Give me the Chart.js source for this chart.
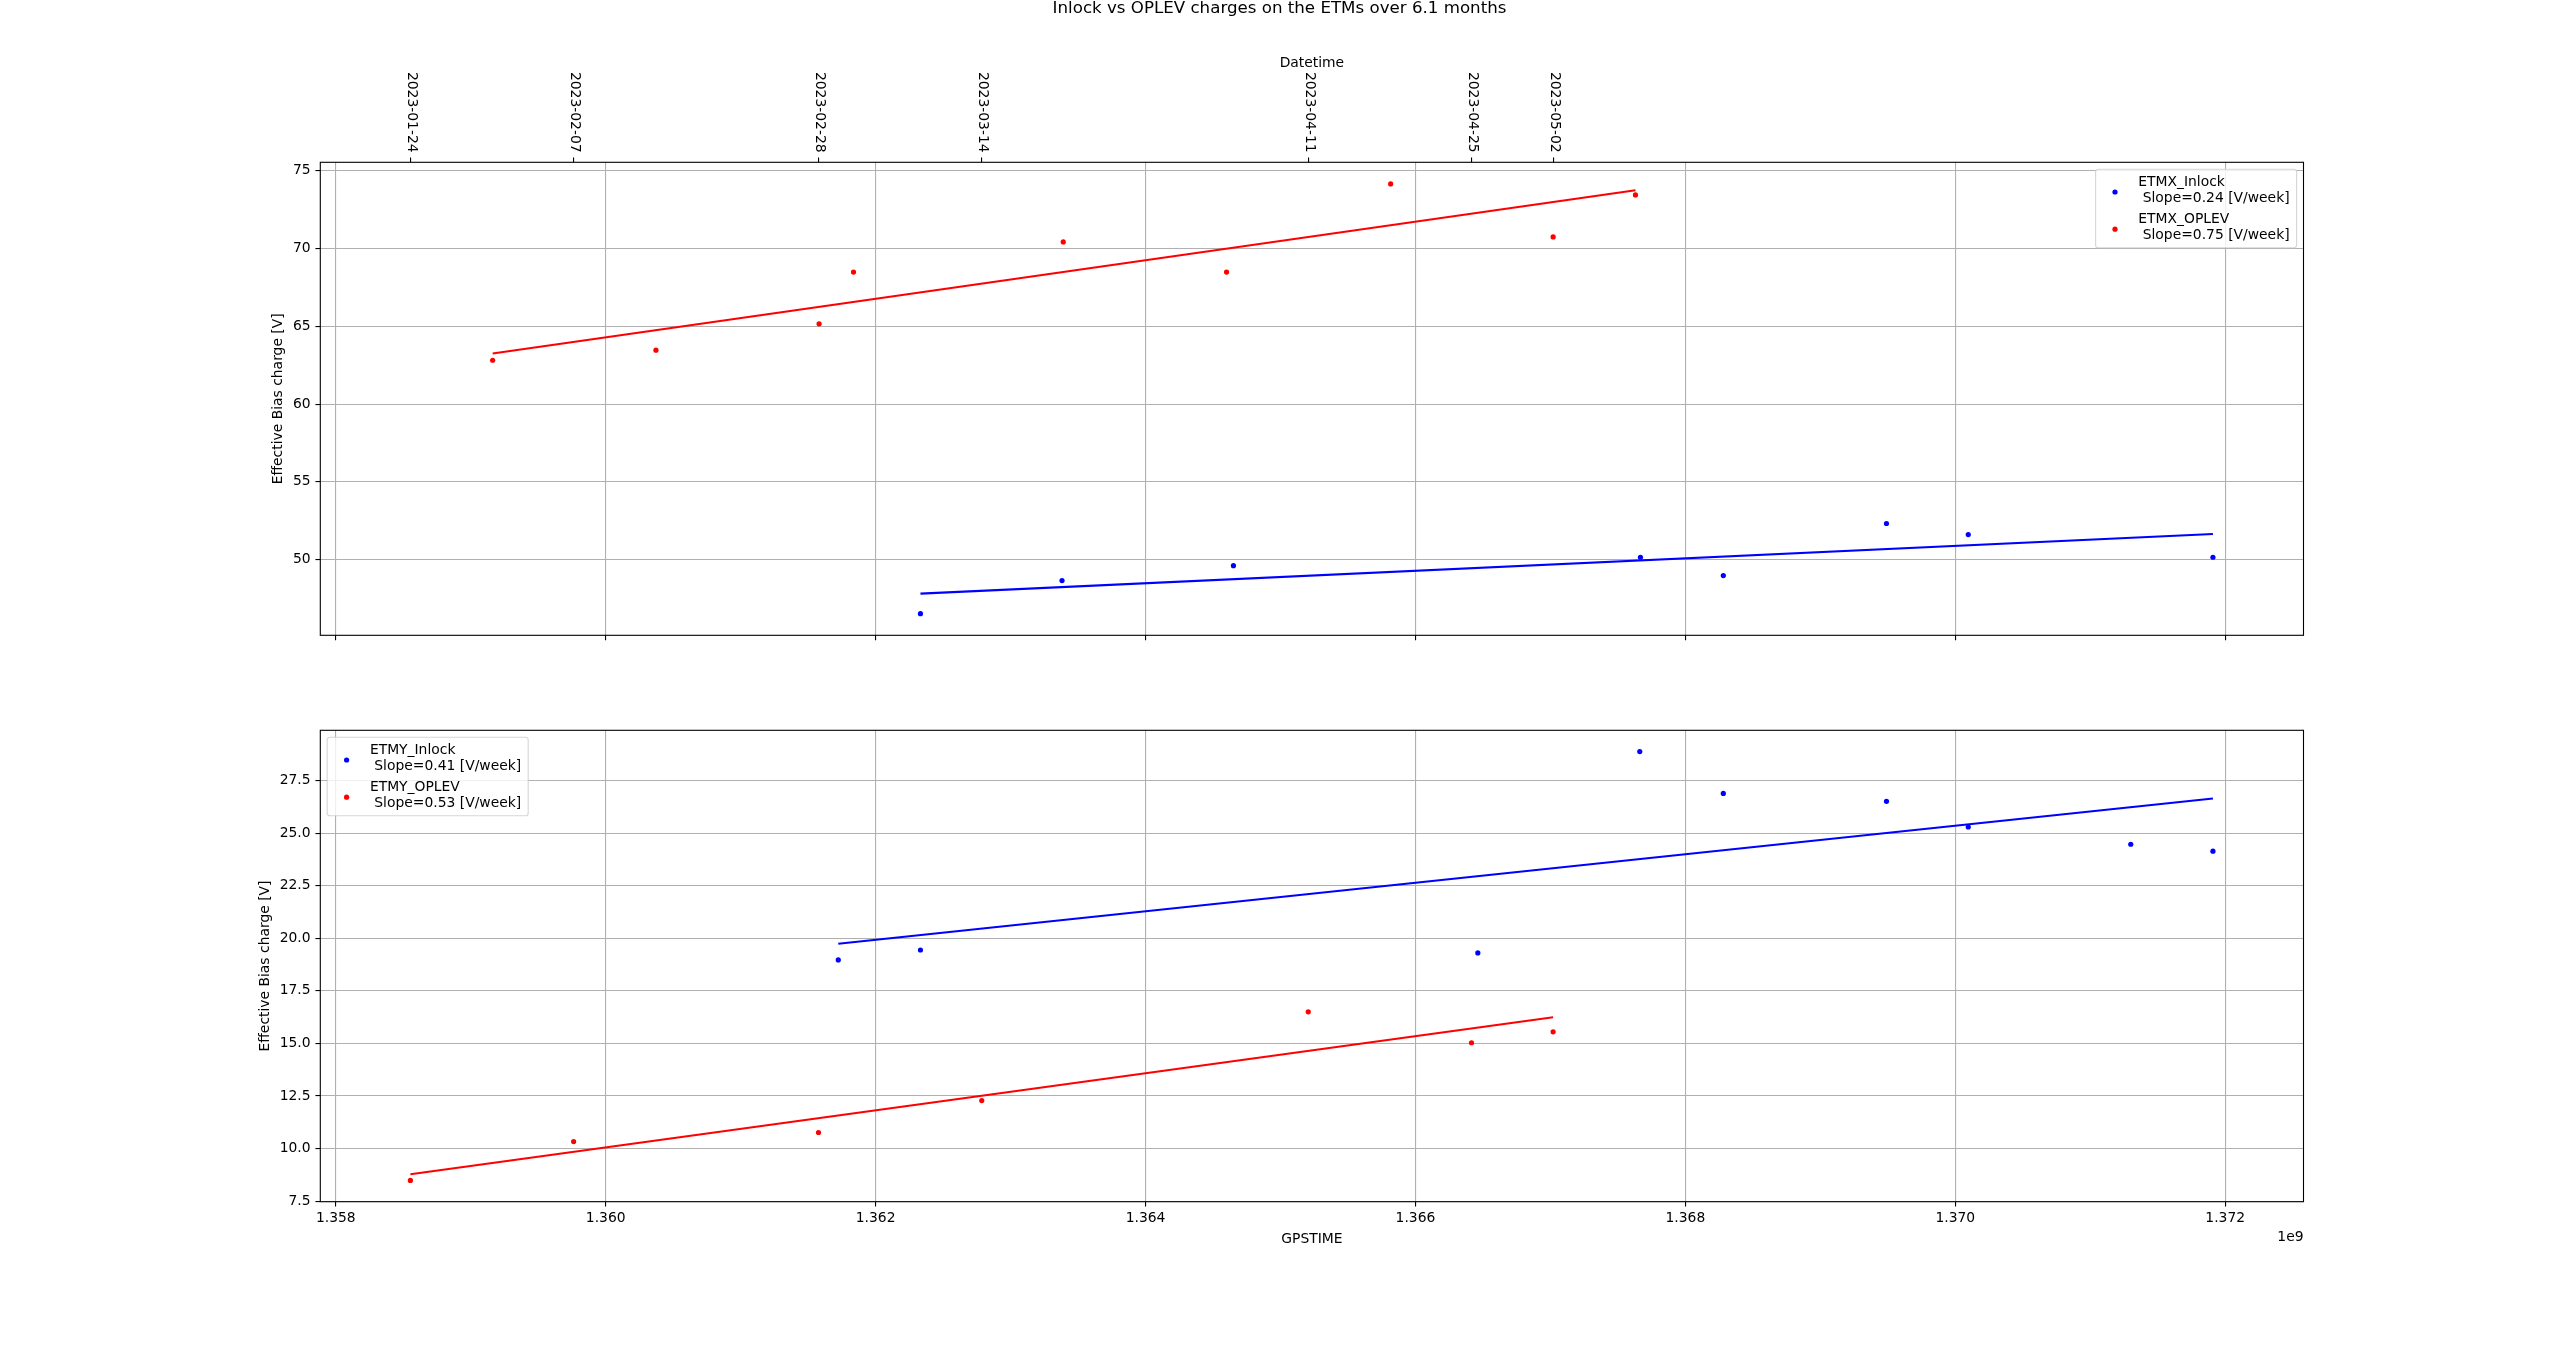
<!DOCTYPE html>
<html>
<head>
<meta charset="utf-8">
<script src="https://cdn.jsdelivr.net/npm/chart.js@4.4.0/dist/chart.umd.min.js"></script>
<style>
html,body{margin:0;padding:0;background:#fff;width:2559px;height:1351px;overflow:hidden}
canvas{position:absolute;left:0;top:0}
</style>
</head>
<body>
<canvas id="c1" width="2559" height="1351"></canvas>
<canvas id="c2" width="2559" height="1351"></canvas>
<script>
// ---------------- DATA (GPS seconds, volts) ----------------
const chartTitle = 'Inlock vs OPLEV charges on the ETMs over 6.1 months';

// Top panel: ETMX
const ETMX_Inlock_t = [1362332000, 1363381000, 1364651000, 1367667000, 1368281000, 1369490000, 1370096000, 1371909000];
const ETMX_Inlock_v = [46.52, 48.65, 49.61, 50.15, 48.97, 52.32, 51.61, 50.15];
const ETMX_OPLEV_t = [1359162000, 1360372000, 1361581000, 1361836000, 1363390000, 1364600000, 1365816000, 1367020000, 1367630000];
const ETMX_OPLEV_v = [62.82, 63.47, 65.16, 68.49, 70.43, 68.49, 74.16, 70.75, 73.45];
// fitted trend lines (end points)
const ETMX_Inlock_fit_t = [1362332000, 1371909000];
const ETMX_Inlock_fit_v = [47.81, 51.65];
const ETMX_OPLEV_fit_t = [1359162000, 1367630000];
const ETMX_OPLEV_fit_v = [63.25, 73.75];

// Bottom panel: ETMY
const ETMY_Inlock_t = [1361723000, 1362332000, 1366462000, 1367662000, 1368281000, 1369490000, 1370096000, 1371300000, 1371909000];
const ETMY_Inlock_v = [18.97, 19.44, 19.30, 28.88, 26.89, 26.51, 25.29, 24.47, 24.14];
const ETMY_OPLEV_t = [1358552600, 1359762200, 1361576600, 1362786200, 1365205400, 1366415000, 1367019800];
const ETMY_OPLEV_v = [8.48, 10.33, 10.76, 12.28, 16.50, 15.03, 15.55];
const ETMY_Inlock_fit_t = [1361723000, 1371909000];
const ETMY_Inlock_fit_v = [19.74, 26.65];
const ETMY_OPLEV_fit_t = [1358552600, 1367019800];
const ETMY_OPLEV_fit_v = [8.78, 16.24];

// legend labels
const topLabels = ['ETMX_Inlock\n Slope=0.24 [V/week]', 'ETMX_OPLEV\n Slope=0.75 [V/week]'];
const bottomLabels = ['ETMY_Inlock\n Slope=0.41 [V/week]', 'ETMY_OPLEV\n Slope=0.53 [V/week]'];

// axis ticks
const xTickValues = [1358000000, 1360000000, 1362000000, 1364000000, 1366000000, 1368000000, 1370000000, 1372000000];
const xTickLabels = ['1.358', '1.360', '1.362', '1.364', '1.366', '1.368', '1.370', '1.372'];
const xOffsetText = '1e9';
const xAxisTitle = 'GPSTIME';
const dateTickValues = [1358552600, 1359762200, 1361576600, 1362786200, 1365205400, 1366415000, 1367019800];
const dateTickLabels = ['2023-01-24', '2023-02-07', '2023-02-28', '2023-03-14', '2023-04-11', '2023-04-25', '2023-05-02'];
const dateAxisTitle = 'Datetime';
const yTopTickValues = [50, 55, 60, 65, 70, 75];
const yTopTickLabels = ['50', '55', '60', '65', '70', '75'];
const yBotTickValues = [7.5, 10, 12.5, 15, 17.5, 20, 22.5, 25, 27.5];
const yBotTickLabels = ['7.5', '10.0', '12.5', '15.0', '17.5', '20.0', '22.5', '25.0', '27.5'];
const yAxisTitle = 'Effective Bias charge [V]';

// ---------------- STYLE ----------------
const BLUE = '#0000ff', RED = '#ff0000', GRID = '#b0b0b0';
const FONT = "'DejaVu Sans', sans-serif";
const FS = 13.89;
Chart.defaults.font.family = FONT;
Chart.defaults.font.size = FS;
Chart.defaults.color = '#000';

const xMin = 1357885000, xMax = 1372580000;

function pts(t, v) { return t.map((x, i) => ({x: x, y: v[i]})); }
function fixedTicks(values) { return s => { s.ticks = values.map(v => ({value: v})); }; }
function labelFor(values, labels) { return v => { const i = values.indexOf(v); return i >= 0 ? labels[i] : ''; }; }
function gridOpts(onArea) {
  return {display: true, drawOnChartArea: onArea, color: GRID, lineWidth: 1.1, drawTicks: true,
          tickLength: 4.86, tickColor: '#000', tickWidth: 1.1};
}
function pointSet(label, t, v, color) {
  return {label: label, data: pts(t, v), backgroundColor: color, borderColor: color, pointRadius: 2.6,
          pointBorderWidth: 0, pointHoverRadius: 2.6, showLine: false, isLegend: true};
}
function lineSet(t, v, color) {
  return {data: pts(t, v), borderColor: color, backgroundColor: color, borderWidth: 2.08, pointRadius: 0,
          pointHoverRadius: 0, showLine: true, fill: false, tension: 0, isLegend: false};
}

const framePlugin = {
  id: 'frame',
  afterDatasetsDraw(chart) {
    const {ctx, chartArea: a} = chart;
    ctx.save();
    ctx.strokeStyle = '#000';
    ctx.lineWidth = 1.1;
    ctx.strokeRect(a.left, a.top, a.right - a.left, a.bottom - a.top);
    ctx.restore();
  }
};

function drawLegend(chart, corner) {
  const {ctx, chartArea: a} = chart;
  const w = 201, h = 78.5, pad = 6.9;
  const left = corner === 'right' ? a.right - pad - w : a.left + pad;
  const top = a.top + pad;
  ctx.save();
  ctx.beginPath();
  ctx.roundRect(left, top, w, h, 2.8);
  ctx.fillStyle = 'rgba(255,255,255,0.8)';
  ctx.fill();
  ctx.strokeStyle = 'rgba(204,204,204,0.8)';
  ctx.lineWidth = 1.1;
  ctx.stroke();
  const entries = chart.data.datasets.filter(d => d.isLegend);
  ctx.font = FS + 'px ' + FONT;
  ctx.textAlign = 'left';
  ctx.textBaseline = 'alphabetic';
  ctx.fillStyle = '#000';
  entries.forEach((d, i) => {
    const dy = i * 37.2;
    ctx.beginPath();
    ctx.arc(left + 19.4, top + 22.8 + dy, 2.6, 0, Math.PI * 2);
    ctx.fillStyle = d.backgroundColor;
    ctx.fill();
    ctx.fillStyle = '#000';
    const lines = d.label.split('\n');
    ctx.fillText(lines[0], left + 42.7, top + 17 + dy);
    ctx.fillText(lines[1], left + 42.7, top + 32.7 + dy);
  });
  ctx.restore();
}

// ---------------- TOP CHART ----------------
new Chart(document.getElementById('c1'), {
  type: 'scatter',
  data: {
    datasets: [
      lineSet(ETMX_Inlock_fit_t, ETMX_Inlock_fit_v, BLUE),
      lineSet(ETMX_OPLEV_fit_t, ETMX_OPLEV_fit_v, RED),
      pointSet(topLabels[0], ETMX_Inlock_t, ETMX_Inlock_v, BLUE),
      pointSet(topLabels[1], ETMX_OPLEV_t, ETMX_OPLEV_v, RED)
    ]
  },
  options: {
    responsive: false, animation: false, devicePixelRatio: 1,
    layout: {padding: {left: 270.4, right: 255.5, top: 152.3, bottom: 705.7}},
    plugins: {legend: {display: false}, tooltip: {enabled: false}, title: {display: false}},
    events: [],
    scales: {
      x: {type: 'linear', position: 'bottom', min: xMin, max: xMax,
          afterBuildTicks: fixedTicks(xTickValues), afterFit: s => { s.height = 10; },
          ticks: {display: false, autoSkip: false}, grid: gridOpts(true), border: {display: false}},
      x2: {type: 'linear', position: 'top', min: xMin, max: xMax,
          afterBuildTicks: fixedTicks(dateTickValues), afterFit: s => { s.height = 10; },
          ticks: {display: false, autoSkip: false}, grid: gridOpts(false), border: {display: false}},
      y: {type: 'linear', position: 'left', min: 45.13, max: 75.55,
          afterBuildTicks: fixedTicks(yTopTickValues), afterFit: s => { s.width = 49.9; },
          ticks: {autoSkip: false, padding: 4.9, callback: labelFor(yTopTickValues, yTopTickLabels)},
          title: {display: true, text: yAxisTitle, padding: 0, font: {size: FS}},
          grid: gridOpts(true), border: {display: false}}
    }
  },
  plugins: [framePlugin, {
    id: 'topExtras',
    afterDraw(chart) {
      const ctx = chart.ctx;
      const a = chart.chartArea;
      ctx.save();
      ctx.fillStyle = '#000';
      // suptitle
      ctx.font = '16.67px ' + FONT;
      ctx.textAlign = 'center';
      ctx.textBaseline = 'alphabetic';
      ctx.fillText(chartTitle, 1279.5, 12.8);
      // Datetime axis title
      ctx.font = FS + 'px ' + FONT;
      ctx.fillText(dateAxisTitle, (a.left + a.right) / 2, 67);
      // rotated date tick labels
      const sx2 = chart.scales.x2;
      dateTickValues.forEach((v, i) => {
        const px = sx2.getPixelForValue(v);
        ctx.save();
        ctx.translate(px + 1, a.top - 4.86 - 4.86);
        ctx.rotate(Math.PI / 2);
        ctx.textAlign = 'right';
        ctx.textBaseline = 'middle';
        ctx.fillText(dateTickLabels[i], 0, 0);
        ctx.restore();
      });
      ctx.restore();
      drawLegend(chart, 'right');
    }
  }]
});

// ---------------- BOTTOM CHART ----------------
new Chart(document.getElementById('c2'), {
  type: 'scatter',
  data: {
    datasets: [
      lineSet(ETMY_Inlock_fit_t, ETMY_Inlock_fit_v, BLUE),
      lineSet(ETMY_OPLEV_fit_t, ETMY_OPLEV_fit_v, RED),
      pointSet(bottomLabels[0], ETMY_Inlock_t, ETMY_Inlock_v, BLUE),
      pointSet(bottomLabels[1], ETMY_OPLEV_t, ETMY_OPLEV_v, RED)
    ]
  },
  options: {
    responsive: false, animation: false, devicePixelRatio: 1,
    layout: {padding: {left: 257.5, right: 255.5, top: 730.3, bottom: 103.5}},
    plugins: {legend: {display: false}, tooltip: {enabled: false}, title: {display: false}},
    events: [],
    scales: {
      x: {type: 'linear', position: 'bottom', min: xMin, max: xMax,
          afterBuildTicks: fixedTicks(xTickValues), afterFit: s => { s.height = 45.8; },
          ticks: {autoSkip: false, maxRotation: 0, minRotation: 0, padding: 4, callback: labelFor(xTickValues, xTickLabels)},
          title: {display: true, text: xAxisTitle, padding: 0, font: {size: FS}},
          grid: gridOpts(true), border: {display: false}},
      y: {type: 'linear', position: 'left', min: 7.47, max: 29.89,
          afterBuildTicks: fixedTicks(yBotTickValues), afterFit: s => { s.width = 62.8; },
          ticks: {autoSkip: false, padding: 4.9, callback: labelFor(yBotTickValues, yBotTickLabels)},
          title: {display: true, text: yAxisTitle, padding: 0, font: {size: FS}},
          grid: gridOpts(true), border: {display: false}}
    }
  },
  plugins: [framePlugin, {
    id: 'bottomExtras',
    afterDraw(chart) {
      const ctx = chart.ctx;
      const a = chart.chartArea;
      ctx.save();
      ctx.fillStyle = '#000';
      ctx.font = FS + 'px ' + FONT;
      ctx.textAlign = 'right';
      ctx.textBaseline = 'alphabetic';
      ctx.fillText(xOffsetText, a.right, 1241.3);
      ctx.restore();
      drawLegend(chart, 'left');
    }
  }]
});
</script>
</body>
</html>
